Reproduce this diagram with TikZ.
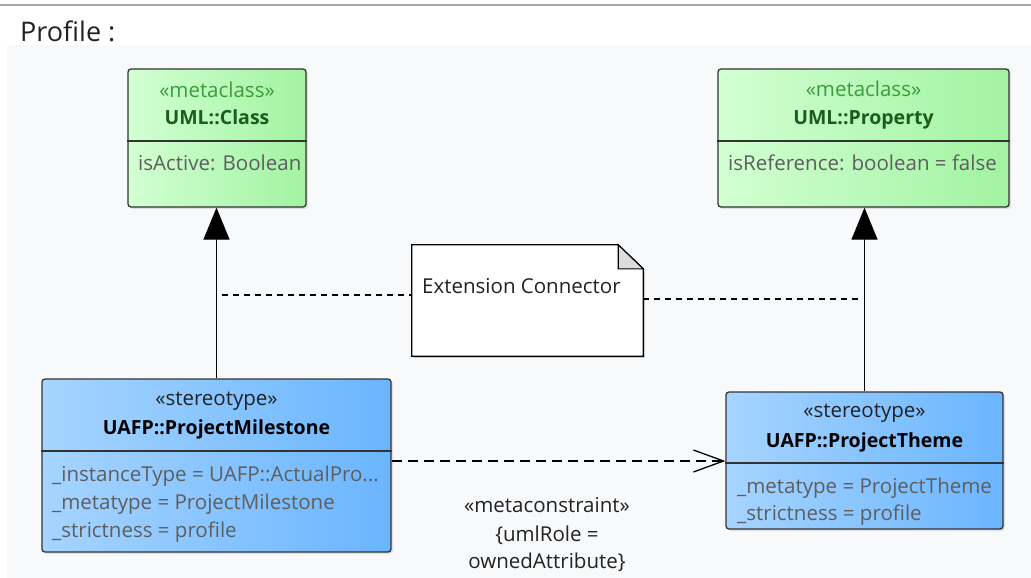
\documentclass[tikz,border=0pt]{standalone}
\usepackage{fontspec}
\setmainfont{Open Sans}
\usetikzlibrary{arrows.meta,shadows}
\definecolor{bggray}{HTML}{F8F9FB}
\definecolor{framegray}{HTML}{A8A8A8}
\definecolor{greenL}{HTML}{D2FFD2}
\definecolor{greenR}{HTML}{A2F3A2}
\definecolor{blueL}{HTML}{A6D4FF}
\definecolor{blueR}{HTML}{6AB5FF}
\definecolor{metagreen}{HTML}{3C9B3C}
\definecolor{namegreen}{HTML}{1C5C1C}
\definecolor{attrgray}{HTML}{5E5E5E}
\definecolor{foldgray}{HTML}{DCDCDC}
\definecolor{inkdark}{HTML}{222222}

\begin{document}
\begin{tikzpicture}[x=1pt,y=-1pt,
  umlbox/.style={draw=black!80, line width=1.3pt, rounded corners=3pt, inner sep=0pt,
    drop shadow={shadow xshift=2pt, shadow yshift=-2pt, opacity=0.2}},
  metabox/.style={umlbox, left color=greenL, right color=greenR},
  stereobox/.style={umlbox, left color=blueL, right color=blueR},
  kw/.style={anchor=base, inner sep=0pt, font=\fontsize{20.5}{24}\selectfont},
  umlname/.style={anchor=base, inner sep=0pt, font=\fontsize{19.5}{24}\selectfont\bfseries},
  attr/.style={anchor=base west, inner sep=0pt, text=attrgray, font=\fontsize{20.5}{24}\selectfont},
  divider/.style={draw=black!80, line width=1.3pt},
  gen/.style={line width=1.3pt, -{Triangle[length=32pt,width=26pt]}},
  dep/.style={line width=1.3pt, dash pattern=on 10pt off 6pt, -{Straight Barb[length=30pt,width=22pt]}},
  notelink/.style={line width=1.2pt, dash pattern=on 6pt off 5pt}]
\useasboundingbox (0,0) rectangle (1031,578);
% frame
\draw[framegray, line width=1.2pt] (0,5) -- (1031,5);
\fill[bggray] (7,45) rectangle (1031,578);
\node[anchor=base west, inner sep=0pt, text=inkdark, font=\fontsize{27}{30}\selectfont] (title) at (20,42) {Profile :};
% metaclasses
\node[metabox, minimum width=178pt, minimum height=138pt] (cls) at (217,138) {};
\node[kw, text=metagreen] (clsKw) at (cls.north |- 0,97) {«metaclass»};
\node[umlname, text=namegreen] (clsName) at (cls.north |- 0,124) {UML::Class};
\draw[divider] (cls.west |- 0,141) -- (cls.east |- 0,141);
\node[attr] (clsA) at (138,170) {isActive: Boolean};

\node[metabox, minimum width=291pt, minimum height=138pt] (prop) at (863.5,138) {};
\node[kw, text=metagreen] (propKw) at (prop.north |- 0,96) {«metaclass»};
\node[umlname, text=namegreen] (propName) at (prop.north |- 0,124) {UML::Property};
\draw[divider] (prop.west |- 0,141) -- (prop.east |- 0,141);
\node[attr] (propA) at (728,170) {isReference: boolean = false};
% stereotypes
\node[stereobox, minimum width=349pt, minimum height=173pt] (mile) at (216.5,465.5) {};
\node[kw, text=inkdark] (mileKw) at (mile.north |- 0,405) {«stereotype»};
\node[umlname, text=black] (mileName) at (mile.north |- 0,434) {UAFP::ProjectMilestone};
\draw[divider] (mile.west |- 0,451) -- (mile.east |- 0,451);
\node[attr] (mileA) at (52,481) {\_instanceType = UAFP::ActualPro...};
\node[attr] (mileB) at (52,509) {\_metatype = ProjectMilestone};
\node[attr] (mileC) at (52,537) {\_strictness = profile};

\node[stereobox, minimum width=277pt, minimum height=137pt] (theme) at (864.5,460.5) {};
\node[kw, text=inkdark] (themeKw) at (theme.north |- 0,417) {«stereotype»};
\node[umlname, text=black] (themeName) at (theme.north |- 0,447) {UAFP::ProjectTheme};
\draw[divider] (theme.west |- 0,463) -- (theme.east |- 0,463);
\node[attr] (themeA) at (737,493) {\_metatype = ProjectTheme};
\node[attr] (themeB) at (737,520) {\_strictness = profile};
% extensions
\draw[gen] (mile.north) -- (mile.north |- cls.south);
\draw[gen] (theme.north) -- (theme.north |- prop.south);
% metaconstraint
\draw[dep] (mile.east |- 0,461) -- (theme.west |- 0,461);
\node[kw, text=inkdark] (mcKw) at (547,512) {«metaconstraint»};
\node[kw, text=inkdark] (mcRole) at (547,541) {\{umlRole =};
\node[kw, text=inkdark] (mcAttr) at (547,568) {ownedAttribute\}};
% note
\node[minimum width=231pt, minimum height=111pt, inner sep=0pt] (note) at (527.5,300.5) {};
\fill[black, opacity=0.2] ([xshift=2pt,yshift=-2pt]note.south west) rectangle ([xshift=2pt,yshift=-26pt]note.north east);
\draw[fill=white, line width=1.3pt] (note.south west) -- (note.north west) -- ([xshift=-25pt]note.north east)
  -- ([yshift=-24pt]note.north east) -- (note.south east) -- cycle;
\draw[fill=foldgray, line width=1.1pt] ([xshift=-25pt]note.north east) -- ([xshift=-25pt,yshift=-24pt]note.north east)
  -- ([yshift=-24pt]note.north east) -- cycle;
\node[anchor=base west, inner sep=0pt, text=inkdark, font=\fontsize{20.5}{24}\selectfont] (noteTxt) at (422,293) {Extension Connector};
\coordinate (extL) at (222,295);
\coordinate (extR) at (862,299);
\draw[notelink] (extL) -- (note.west |- extL);
\draw[notelink] (note.east |- extR) -- (extR);
\end{tikzpicture}
\end{document}
